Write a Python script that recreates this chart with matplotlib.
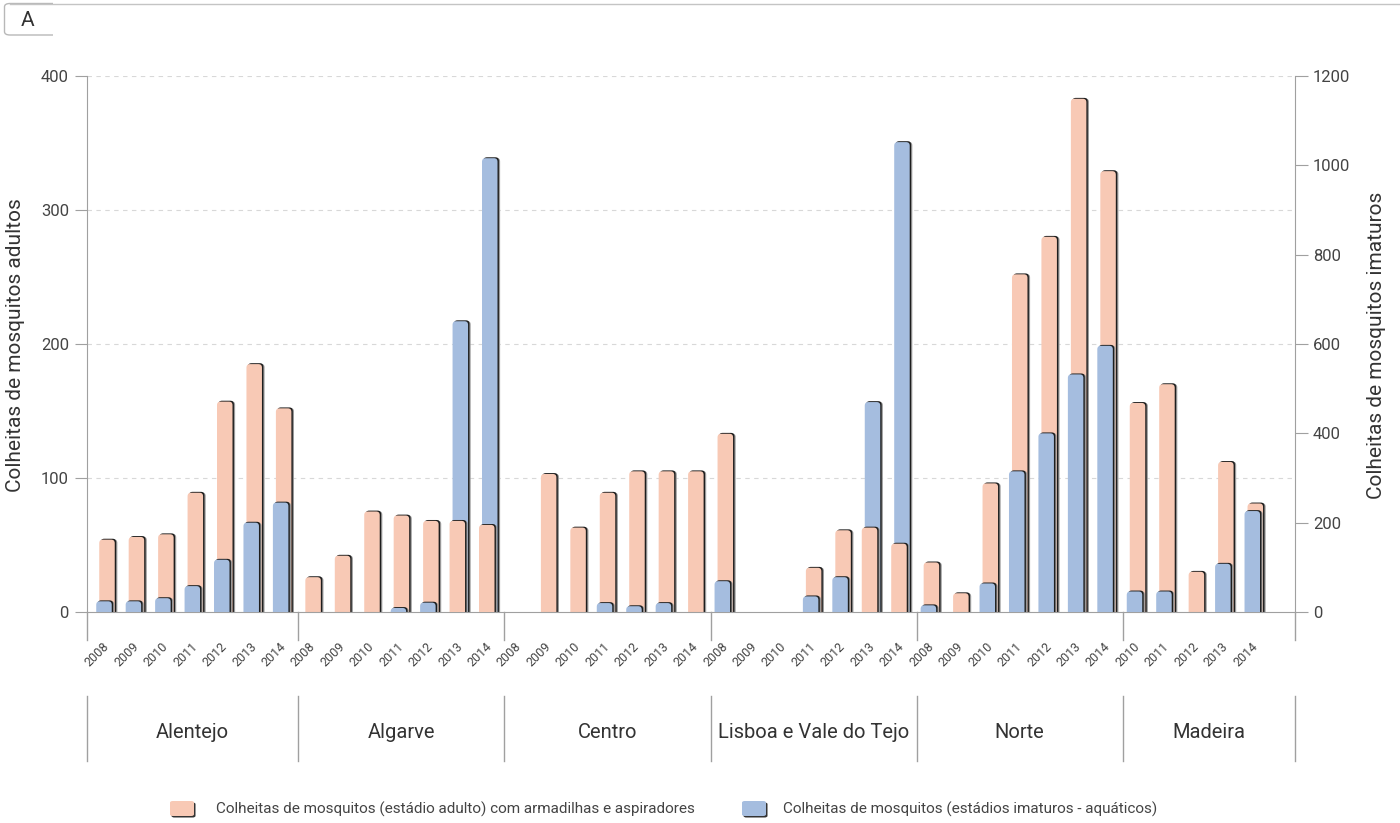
import matplotlib
matplotlib.use("Agg")
import matplotlib.pyplot as plt
from matplotlib.patches import FancyBboxPatch, Rectangle
from matplotlib.lines import Line2D
from matplotlib.transforms import ScaledTranslation, blended_transform_factory

plt.rcParams['font.family'] = ['Roboto', 'DejaVu Sans']

# ---------------- data ----------------
region_names = ["Alentejo", "Algarve", "Centro", "Lisboa e Vale do Tejo", "Norte", "Madeira"]
years_alentejo = [2008, 2009, 2010, 2011, 2012, 2013, 2014]
years_algarve = [2008, 2009, 2010, 2011, 2012, 2013, 2014]
years_centro = [2008, 2009, 2010, 2011, 2012, 2013, 2014]
years_lisboa = [2008, 2009, 2010, 2011, 2012, 2013, 2014]
years_norte = [2008, 2009, 2010, 2011, 2012, 2013, 2014]
years_madeira = [2010, 2011, 2012, 2013, 2014]

adult_alentejo = [54, 56, 58, 89, 157, 185, 152]
adult_algarve = [26, 42, 75, 72, 68, 68, 65]
adult_centro = [0, 103, 63, 89, 105, 105, 105]
adult_lisboa = [133, 0, 0, 33, 61, 63, 51]
adult_norte = [37, 14, 96, 252, 280, 383, 329]
adult_madeira = [156, 170, 30, 112, 81]

immature_alentejo = [24, 24, 31, 58, 117, 200, 245]
immature_algarve = [0, 0, 0, 9, 21, 651, 1016]
immature_centro = [0, 0, 0, 20, 13, 20, 0]
immature_lisboa = [69, 0, 0, 35, 78, 470, 1052]
immature_norte = [15, 0, 64, 315, 400, 532, 596]
immature_madeira = [46, 46, 0, 108, 226]

left_ticks = [0, 100, 200, 300, 400]
right_ticks = [0, 200, 400, 600, 800, 1000, 1200]

label_adult = "Colheitas de mosquitos (estádio adulto) com armadilhas e aspiradores"
label_imm = "Colheitas de mosquitos (estádios imaturos - aquáticos)"
ylabel_left = "Colheitas de mosquitos adultos"
ylabel_right = "Colheitas de mosquitos imaturos"

region_years = [years_alentejo, years_algarve, years_centro, years_lisboa, years_norte, years_madeira]
region_adult = [adult_alentejo, adult_algarve, adult_centro, adult_lisboa, adult_norte, adult_madeira]
region_imm = [immature_alentejo, immature_algarve, immature_centro, immature_lisboa, immature_norte, immature_madeira]

# ---------------- style ----------------
C_ADULT = "#F8C9B5"
C_IMM = "#A5BDDF"
TXT = "#444444"
TXT_BIG = "#333333"
AXC = "#a0a0a0"

W, H = 1400, 823
fig = plt.figure(figsize=(W / 100, H / 100), dpi=100)
x0p, x1p, y0p, y1p = 87, 1295, 612, 76
ax = fig.add_axes([x0p / W, 1 - y0p / H, (x1p - x0p) / W, (y0p - y1p) / H])
ax2 = ax.twinx()

XMIN, XMAX = -0.628, 40.40
ax.set_xlim(XMIN, XMAX)
ax.set_ylim(0, 400)
ax2.set_ylim(0, 1200)
ax.set_xticks([])
ax.set_yticks(left_ticks)
ax2.set_yticks(right_ticks)
for a in (ax, ax2):
    for s in a.spines.values():
        s.set_visible(False)
ax.spines['left'].set_visible(True)
ax.spines['left'].set_color(AXC)
ax.spines['bottom'].set_visible(True)
ax.spines['bottom'].set_color(AXC)
ax2.spines['right'].set_visible(True)
ax2.spines['right'].set_color(AXC)
ax.tick_params(axis='y', length=9, color=AXC, labelsize=12, labelcolor=TXT, pad=4)
ax2.tick_params(axis='y', length=9, color=AXC, labelsize=12, labelcolor=TXT, pad=4)

for v in left_ticks[1:]:
    ax.axhline(v, color="#d8d8d8", lw=0.8, ls=(0, (4, 4)), zorder=0)

# pixel scales
def px_per(trans, dx, dy):
    p0 = trans.transform((0, 0))
    p1 = trans.transform((dx, dy))
    return p1 - p0

pxx = px_per(ax.transData, 1, 0)[0]
pyL = px_per(ax.transData, 0, 1)[1]
pyR = px_per(ax2.transData, 0, 1)[1]

BAR_W = 15.5 / pxx
OFF = 1.5 / pxx
R_PX = 3.5
sh1 = ScaledTranslation(2.6 / 100, 0.3 / 100, fig.dpi_scale_trans)
sh2 = ScaledTranslation(1.4 / 100, 0.9 / 100, fig.dpi_scale_trans)


def rbar(xc, val, trans, py, color, z):
    r = R_PX / pxx
    ma = pxx / py
    yb = -1.3 * r * ma
    h = val - yb
    kw = dict(boxstyle=f"round,pad=0,rounding_size={r}", mutation_aspect=ma)
    for tr, col, dz in ((trans + sh1, "#9a9a9a", -0.2), (trans + sh2, "#1e1e1e", -0.1)):
        p = FancyBboxPatch((xc - BAR_W / 2, yb), BAR_W, h, transform=tr, fc=col, ec="none", zorder=z + dz, **kw)
        ax.add_patch(p)
    p = FancyBboxPatch((xc - BAR_W / 2, yb), BAR_W, h, transform=trans, fc=color, ec="none", zorder=z, **kw)
    ax.add_patch(p)


bt = blended_transform_factory(ax.transData, ax.transAxes)
idx = 0
bounds = [XMIN]
for g, (yrs, ad, im) in enumerate(zip(region_years, region_adult, region_imm)):
    for yv, a, m in zip(yrs, ad, im):
        ha_px = a * pyL
        hm_px = m * pyR
        bars = []
        if a > 0:
            bars.append((ha_px, a, ax.transData, pyL, C_ADULT))
        if m > 0:
            bars.append((hm_px, m, ax2.transData, pyR, C_IMM))
        bars.sort(key=lambda b: -b[0])
        for k, (hp, val, tr, py, col) in enumerate(bars):
            if k == 0:
                rbar(idx + OFF, val, tr, py, col, 2)
            else:
                rbar(idx - OFF, val, tr, py, col, 3)
        ax.text(idx - 0.28, -0.080, str(yv), transform=bt, rotation=45, ha='center', va='center',
                fontsize=9, color=TXT)
        idx += 1
    bounds.append(idx - 1 + 0.55 if g < len(region_years) - 1 else XMAX)

# separators
for b in bounds:
    ax.add_line(Line2D([b, b], [0, -0.052], transform=bt, color=AXC, lw=1, clip_on=False))
    ax.add_line(Line2D([b, b], [-0.157, -0.278], transform=bt, color=AXC, lw=1, clip_on=False))
for g, name in enumerate(region_names):
    xm = (bounds[g] + bounds[g + 1]) / 2
    ax.text(xm, -0.224, name, transform=bt, ha='center', va='center', fontsize=14.5, color=TXT_BIG)

# axis titles
fig.text(16 / W, 1 - 345 / H, ylabel_left, rotation=90, ha='center', va='center', fontsize=15,
         color=TXT_BIG)
fig.text(1377 / W, 1 - 345 / H, ylabel_right, rotation=90, ha='center', va='center', fontsize=15,
         color=TXT_BIG)

# legend
def fig_px_box(xp, yp, wp, hp, col, z=5):
    return FancyBboxPatch((xp / W, 1 - (yp + hp) / H), wp / W, hp / H, transform=fig.transFigure,
                          boxstyle="round,pad=0,rounding_size=0.002", fc=col, ec="none", zorder=z)

for xs, col, lab, xt in ((170, C_ADULT, label_adult, 216), (742, C_IMM, label_imm, 783)):
    fig.patches.append(fig_px_box(xs + 1.5, 802.5, 24, 15, "#333333", 4))
    fig.patches.append(fig_px_box(xs, 801, 24, 15, col, 5))
    fig.text(xt / W, 1 - 809 / H, lab, ha='left', va='center', fontsize=11, color=TXT)

# "A" tab
fig.add_artist(Line2D([10 / W, 1.0], [1 - 3.5 / H, 1 - 3.5 / H], transform=fig.transFigure, color="#c4c4c4", lw=1))
tab = FancyBboxPatch((4.5 / W, 1 - 35 / H), 90 / W, 31.5 / H, transform=fig.transFigure,
                     boxstyle="round,pad=0,rounding_size=0.004", fc="white", ec="#b8b8b8", lw=1)
clip = Rectangle((0, 0), 52.5 / W, 1, transform=fig.transFigure, visible=False)
fig.patches.append(clip)
tab.set_clip_path(clip)
fig.patches.append(tab)
fig.text(28 / W, 1 - 20 / H, "A", ha='center', va='center', fontsize=15, color=TXT_BIG)

fig.savefig("out.png", dpi=100)
